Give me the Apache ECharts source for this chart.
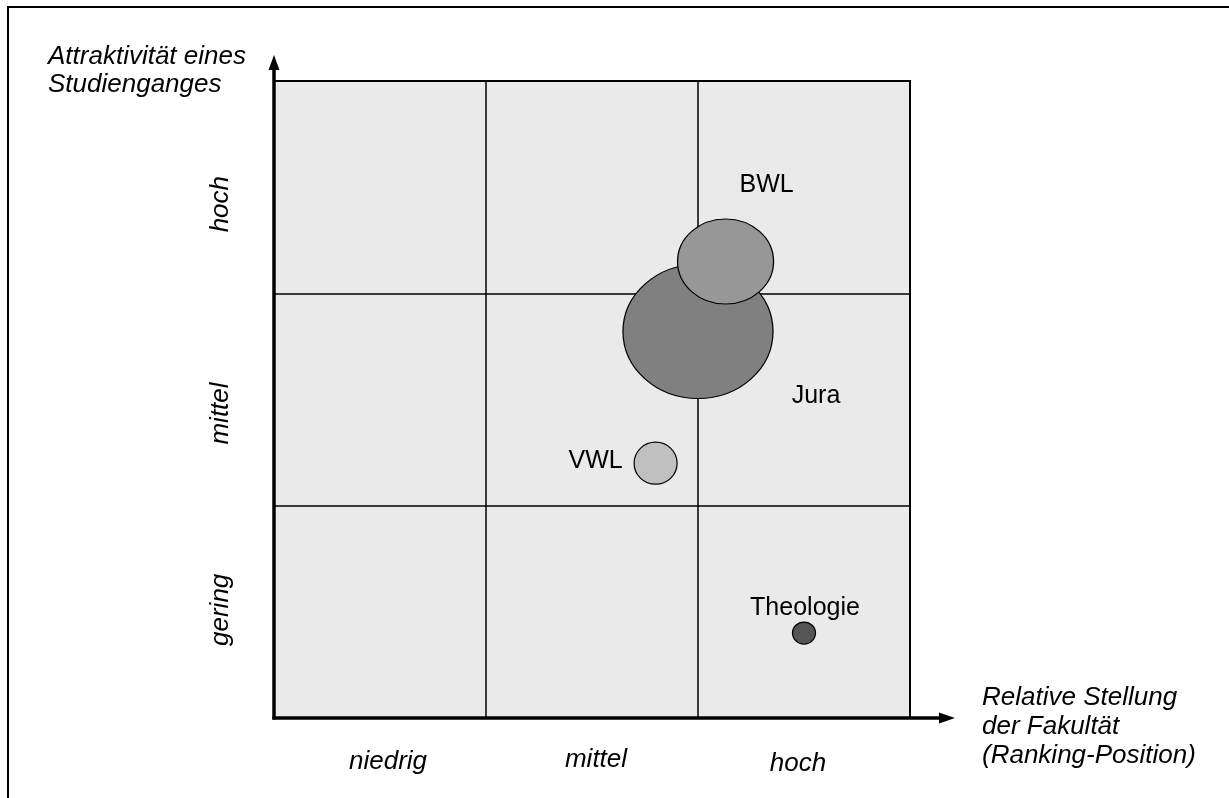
<!DOCTYPE html>
<html>
<head>
<meta charset="utf-8">
<script src="https://cdn.jsdelivr.net/npm/echarts@6/dist/echarts.min.js"></script>
<style>
html,body{margin:0;padding:0;background:#fff;}
#main{width:1229px;height:798px;}
</style>
</head>
<body>
<div id="main"></div>
<script>
// Studiengaenge: Lage im Portfolio (0..3 je Achse) und Ausdehnung der Blasen
var namen = ['Jura', 'BWL', 'VWL', 'Theologie'];
var xWerte = [2.0, 2.13, 1.80, 2.50];
var yWerte = [1.82, 2.15, 1.20, 0.40];
var breite = [150, 96, 43, 23];
var hoehe = [134, 85, 42, 22];
var farben = ['#808080', '#979797', '#c0c0c0', '#555555'];
var xKategorien = ['niedrig', 'mittel', 'hoch'];
var yKategorien = ['gering', 'mittel', 'hoch'];

var labelOffsets = {
	'Jura': [118, 65],
	'BWL': [41, -76],
	'VWL': [-60, -2],
	'Theologie': [1, -25]
};

var L = 274, T = 81, W = 636, H = 637;
var font = 'Liberation Sans, Arial, sans-serif';

function kursiv(pad) {
	return {color: '#000', fontSize: 26, fontStyle: 'italic', fontFamily: font, padding: pad};
}

var myChart = echarts.init(document.getElementById('main'));

var series = [];
for (var i = 0; i < namen.length; i++) {
	series.push({
		name: namen[i],
		type: 'scatter',
		xAxisIndex: 0,
		yAxisIndex: 0,
		symbol: 'circle',
		symbolSize: [breite[i], hoehe[i]],
		data: [[xWerte[i], yWerte[i]]],
		itemStyle: {color: farben[i], borderColor: '#000', borderWidth: 1.2, opacity: 1},
		label: {
			show: true,
			position: 'inside',
			offset: labelOffsets[namen[i]],
			formatter: namen[i],
			color: '#000',
			fontSize: 25,
			fontFamily: font
		},
		emphasis: {disabled: true},
		silent: true
	});
}

var option = {
	animation: false,
	backgroundColor: '#fff',
	grid: {
		left: L, top: T, width: W, height: H,
		show: true,
		backgroundColor: '#eaeaea',
		borderColor: '#000',
		borderWidth: 2
	},
	xAxis: [
		{
			type: 'value', min: 0, max: 3, interval: 1,
			axisLine: {show: false},
			axisTick: {show: false},
			axisLabel: {show: false},
			splitLine: {show: true, lineStyle: {color: '#000', width: 1.5}}
		},
		{
			type: 'category', data: xKategorien, position: 'bottom',
			boundaryGap: true,
			axisLine: {show: false},
			axisTick: {show: false},
			splitLine: {show: false},
			axisLabel: {
				margin: 29, color: '#000', fontSize: 26,
				fontStyle: 'italic', fontFamily: font,
				formatter: function (v, idx) { return '{x' + idx + '|' + v + '}'; },
				rich: {
					x0: kursiv([2, 0, 0, 16]),
					x1: kursiv([0, 0, 0, 8]),
					x2: kursiv([4, 12, 0, 0])
				}
			}
		}
	],
	yAxis: [
		{
			type: 'value', min: 0, max: 3, interval: 1,
			axisLine: {show: false},
			axisTick: {show: false},
			axisLabel: {show: false},
			splitLine: {show: true, lineStyle: {color: '#000', width: 1.5}}
		},
		{
			type: 'category', data: yKategorien, position: 'left',
			boundaryGap: true,
			axisLine: {show: false},
			axisTick: {show: false},
			splitLine: {show: false},
			axisLabel: {
				margin: 40, rotate: 90, color: '#000', fontSize: 26,
				fontStyle: 'italic', fontFamily: font,
				formatter: function (v, idx) { return '{y' + idx + '|' + v + '}'; },
				rich: {
					y0: kursiv([0, 0, 0, 4]),
					y1: kursiv([0, 28, 0, 0]),
					y2: kursiv([0, 34, 0, 0])
				}
			}
		}
	],
	series: series,
	graphic: [
		// Rahmen
		{type: 'rect', shape: {x: 8, y: 7, width: 1260, height: 830},
			style: {fill: null, stroke: '#000', lineWidth: 2}, silent: true},
		// y-Achse mit Pfeil
		{type: 'line', shape: {x1: L, y1: T + H + 1.5, x2: L, y2: 66},
			style: {stroke: '#000', lineWidth: 3.5}, z: 10},
		{type: 'polygon', shape: {points: [[L - 5.5, 70], [L + 5.5, 70], [L, 55]]},
			style: {fill: '#000'}, z: 10},
		// x-Achse mit Pfeil
		{type: 'line', shape: {x1: L - 1.5, y1: T + H, x2: 942, y2: T + H},
			style: {stroke: '#000', lineWidth: 3.5}, z: 10},
		{type: 'polygon', shape: {points: [[939, T + H - 5.5], [939, T + H + 5.5], [955, T + H]]},
			style: {fill: '#000'}, z: 10},
		// Achsentitel
		{type: 'text', left: 48, top: 43, z: 10,
			style: {text: 'Attraktivität eines\nStudienganges', fill: '#000',
				font: 'italic 26px ' + font, lineHeight: 28}},
		{type: 'text', left: 982, top: 683, z: 10,
			style: {text: 'Relative Stellung\nder Fakultät\n(Ranking-Position)', fill: '#000',
				font: 'italic 26px ' + font, lineHeight: 29}}
	]
};

myChart.setOption(option);
window.onresize = myChart.resize;
</script>
</body>
</html>
